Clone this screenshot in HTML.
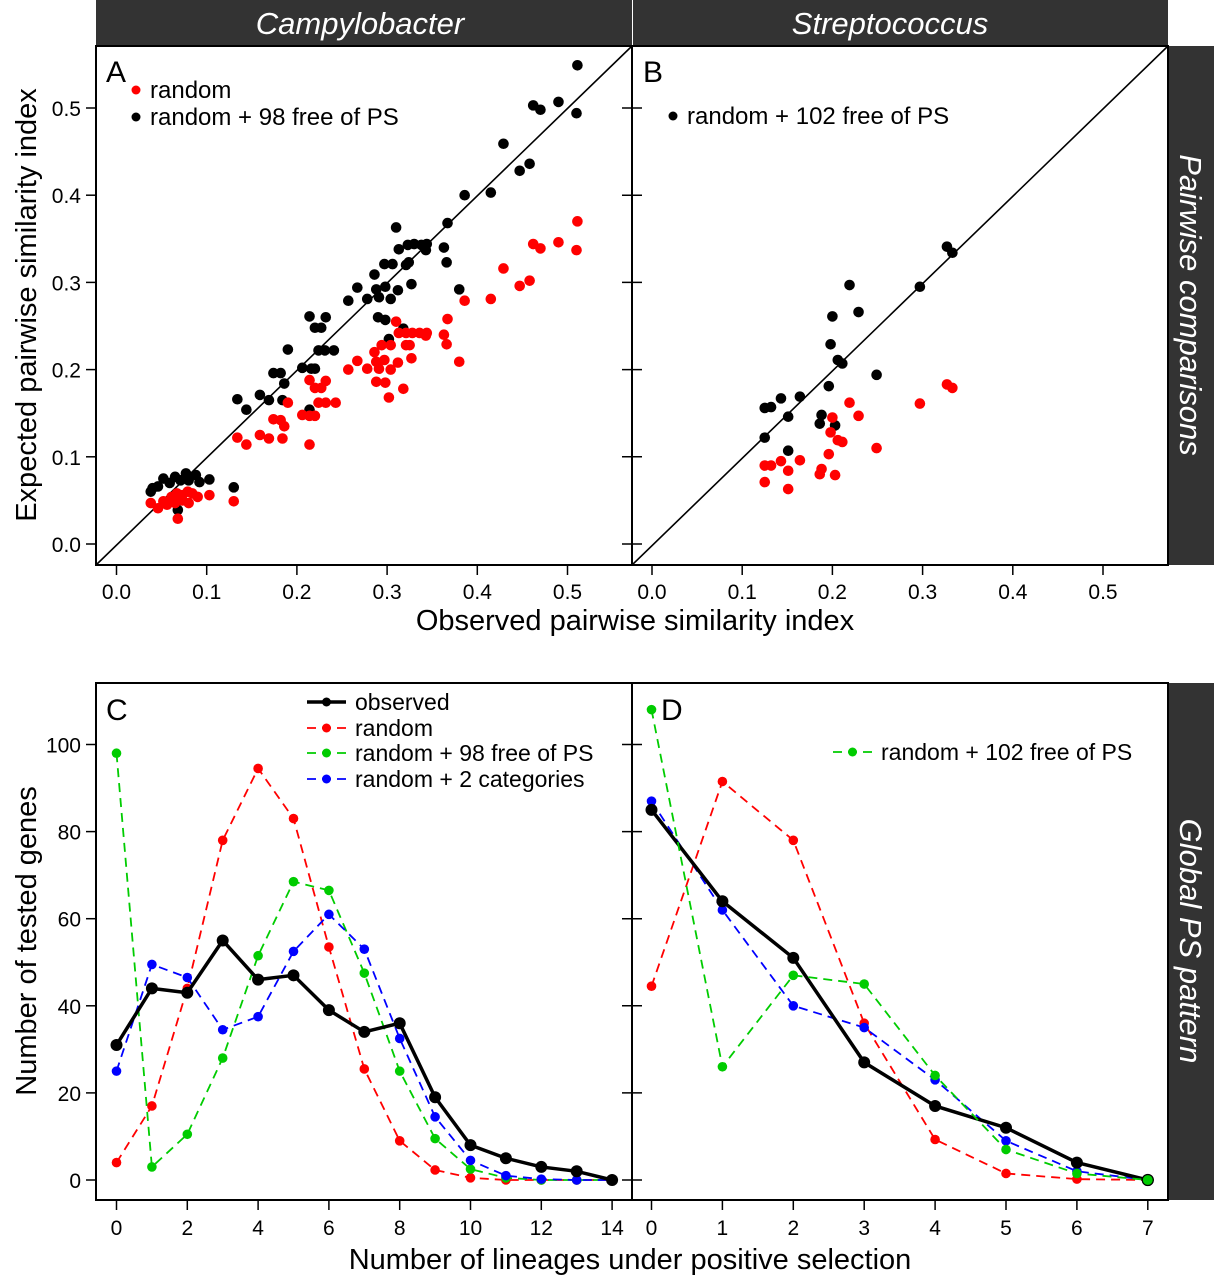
<!DOCTYPE html>
<html><head><meta charset="utf-8"><style>
html,body{margin:0;padding:0;background:#fff}
svg{display:block;font-family:"Liberation Sans",Arial,sans-serif}
</style></head><body>
<svg id="fig" width="1214" height="1280" viewBox="0 0 1214 1280" xmlns="http://www.w3.org/2000/svg">
<g>
<rect x="96" y="0" width="536" height="46" fill="#333"/>
<rect x="633" y="0" width="535" height="46" fill="#333"/>
<text x="360" y="34" fill="#fff" font-size="31" font-style="italic" text-anchor="middle">Campylobacter</text>
<text x="890" y="34" fill="#fff" font-size="31" font-style="italic" text-anchor="middle">Streptococcus</text>
<rect x="1168" y="46" width="46" height="519" fill="#333"/>
<rect x="1168" y="683" width="46" height="517" fill="#333"/>
<text transform="translate(1180,305) rotate(90)" fill="#fff" font-size="31" font-style="italic" text-anchor="middle">Pairwise comparisons</text>
<text transform="translate(1180,941) rotate(90)" fill="#fff" font-size="31" font-style="italic" text-anchor="middle">Global PS pattern</text>
</g>
<g id="topg"></g>
<g id="botg"></g>
<text transform="translate(36,305) rotate(-90)" font-size="29" text-anchor="middle">Expected pairwise similarity index</text>
<text x="635" y="630" font-size="29" text-anchor="middle">Observed pairwise similarity index</text>
<text transform="translate(36,941) rotate(-90)" font-size="29" text-anchor="middle">Number of tested genes</text>
<text x="630" y="1269" font-size="29" text-anchor="middle">Number of lineages under positive selection</text>
</svg>
<script>
// Panel A data
const aBlackX=[0.511,0.462,0.470,0.490,0.510,0.429,0.447,0.458,0.386,0.415,0.367,0.310,0.313,0.323,0.330,0.338,0.344,0.343,0.363,0.366,0.286,0.297,0.306,0.321,0.324,0.267,0.288,0.298,0.291,0.304,0.312,0.327,0.278,0.257,0.380,0.290,0.298,0.318,0.302,0.214,0.232,0.220,0.227,0.190,0.224,0.231,0.241,0.174,0.182,0.206,0.216,0.220,0.186,0.159,0.169,0.184,0.134,0.144,0.214,0.130,0.040,0.052,0.065,0.077,0.088,0.080,0.092,0.103,0.046,0.059,0.071,0.038,0.068];
const aBlackY=[0.549,0.503,0.498,0.507,0.494,0.459,0.428,0.436,0.400,0.403,0.368,0.363,0.338,0.343,0.344,0.343,0.344,0.337,0.340,0.323,0.309,0.321,0.321,0.320,0.323,0.294,0.292,0.295,0.283,0.281,0.291,0.298,0.281,0.279,0.292,0.260,0.257,0.247,0.235,0.261,0.260,0.248,0.248,0.223,0.222,0.222,0.222,0.196,0.196,0.202,0.201,0.201,0.184,0.171,0.165,0.165,0.166,0.154,0.154,0.065,0.064,0.075,0.077,0.081,0.079,0.073,0.071,0.074,0.066,0.070,0.073,0.060,0.039];
const aRedX=[0.511,0.462,0.470,0.490,0.510,0.429,0.447,0.458,0.386,0.415,0.367,0.363,0.366,0.380,0.310,0.313,0.321,0.328,0.336,0.344,0.343,0.294,0.304,0.321,0.325,0.286,0.297,0.288,0.312,0.327,0.267,0.278,0.257,0.291,0.304,0.288,0.298,0.318,0.302,0.214,0.232,0.220,0.227,0.190,0.224,0.232,0.243,0.174,0.182,0.186,0.206,0.214,0.220,0.159,0.169,0.184,0.134,0.144,0.214,0.130,0.103,0.038,0.046,0.052,0.061,0.067,0.073,0.079,0.084,0.090,0.065,0.080,0.073,0.056,0.068];
const aRedY=[0.370,0.344,0.339,0.346,0.337,0.316,0.296,0.302,0.279,0.281,0.258,0.240,0.229,0.209,0.255,0.242,0.242,0.242,0.242,0.242,0.239,0.228,0.228,0.228,0.228,0.220,0.211,0.209,0.208,0.213,0.210,0.201,0.200,0.201,0.200,0.186,0.185,0.178,0.168,0.188,0.187,0.179,0.179,0.162,0.162,0.162,0.162,0.143,0.142,0.135,0.148,0.147,0.147,0.125,0.121,0.121,0.122,0.114,0.114,0.049,0.056,0.047,0.041,0.049,0.054,0.058,0.056,0.060,0.058,0.054,0.047,0.047,0.050,0.045,0.029];
// Panel B data
const bBlackX=[0.219,0.297,0.200,0.229,0.198,0.206,0.211,0.249,0.196,0.125,0.132,0.143,0.164,0.151,0.188,0.186,0.203,0.125,0.151,0.327,0.333];
const bBlackY=[0.297,0.295,0.261,0.266,0.229,0.211,0.207,0.194,0.181,0.156,0.157,0.167,0.169,0.146,0.148,0.138,0.136,0.122,0.107,0.341,0.334];
const bRedX=[0.327,0.333,0.297,0.219,0.229,0.200,0.198,0.206,0.211,0.249,0.196,0.125,0.132,0.143,0.164,0.151,0.188,0.186,0.203,0.125,0.151];
const bRedY=[0.183,0.179,0.161,0.162,0.147,0.145,0.128,0.119,0.117,0.110,0.103,0.090,0.090,0.095,0.096,0.084,0.086,0.080,0.079,0.071,0.063];
const topTicks=[0,0.1,0.2,0.3,0.4,0.5];
const topTickLabels=["0.0","0.1","0.2","0.3","0.4","0.5"];
// Panel C data
const cLineages=[0,1,2,3,4,5,6,7,8,9,10,11,12,13,14];
const cObserved=[31,44,43,55,46,47,39,34,36,19,8,5,3,2,0];
const cRandom=[4,17,44,78,94.5,83,53.5,25.5,9,2.3,0.5,0,0,0,0];
const cFree=[98,3,10.5,28,51.5,68.5,66.5,47.5,25,9.5,2.5,0.5,0,0,0];
const cTwoCat=[25,49.5,46.5,34.5,37.5,52.5,61,53,32.5,14.5,4.5,1,0.2,0,0];
// Panel D data
const dLineages=[0,1,2,3,4,5,6,7];
const dObserved=[85,64,51,27,17,12,4,0];
const dRandom=[44.5,91.5,78,36,9.3,1.5,0.2,0];
const dFree=[108,26,47,45,24,7,1.5,0];
const dTwoCat=[87,62,40,35,23,9,2,0];
const botYTicks=[0,20,40,60,80,100];
const cXTicks=[0,2,4,6,8,10,12,14];
const dXTicks=[0,1,2,3,4,5,6,7];

const NS="http://www.w3.org/2000/svg";
function mk(parent,tag,attrs){const e=document.createElementNS(NS,tag);for(const k in attrs)e.setAttribute(k,attrs[k]);parent.appendChild(e);return e;}
const gTop=document.getElementById('topg'), gBot=document.getElementById('botg');

const xA=v=>116.5+v*902, xB=v=>652+v*902, yT=v=>544-v*872;
let f=mk(gTop,'rect',{x:96,y:46,width:536,height:519,fill:'none',stroke:'#000','stroke-width':2});


f=mk(gTop,'rect',{x:632,y:46,width:536,height:519,fill:'none',stroke:'#000','stroke-width':2});


let d=mk(gTop,'line',{x1:96,y1:565,x2:632,y2:46,stroke:'#000','stroke-width':1.6});


d=mk(gTop,'line',{x1:632,y1:565,x2:1168,y2:46,stroke:'#000','stroke-width':1.6});


function txt(g,x,y,s,size,name,anchor){const e=mk(g,'text',{x:x,y:y,'font-size':size,'text-anchor':anchor||'start'});e.textContent=s;
  
  return e;}
topTicks.forEach((t,i)=>{
  let e=mk(gTop,'line',{x1:xA(t),y1:565,x2:xA(t),y2:575,stroke:'#000','stroke-width':1.5});
  
  
  e=mk(gTop,'line',{x1:xB(t),y1:565,x2:xB(t),y2:575,stroke:'#000','stroke-width':1.5});
  
  
  txt(gTop,xA(t),599,topTickLabels[i],21,'x-tick-label-a','middle');
  txt(gTop,xB(t),599,topTickLabels[i],21,'x-tick-label-b','middle');
  e=mk(gTop,'line',{x1:86,y1:yT(t),x2:96,y2:yT(t),stroke:'#000','stroke-width':1.5});
  
  
  e=mk(gTop,'line',{x1:622,y1:yT(t),x2:642,y2:yT(t),stroke:'#000','stroke-width':1.5});
  
  
  txt(gTop,81,yT(t)+8,topTickLabels[i],21,'y-tick-label-a','end');
});
function pts(g,xs,ys,xf,col,name){xs.forEach((v,i)=>{const c=mk(g,'circle',{cx:xf(v),cy:yT(ys[i]),r:5.3,fill:col});
  
  });}
pts(gTop,aBlackX,aBlackY,xA,'#000','point-a-free');
pts(gTop,aRedX,aRedY,xA,'#f00','point-a-random');
pts(gTop,bBlackX,bBlackY,xB,'#000','point-b-free');
pts(gTop,bRedX,bRedY,xB,'#f00','point-b-random');
txt(gTop,106,82,'A',30,'panel-label-a');
txt(gTop,643,82,'B',30,'panel-label-b');
let l=mk(gTop,'circle',{cx:136,cy:90,r:4.5,fill:'#f00'});


txt(gTop,150,98,'random',24,'legend-label-random');
l=mk(gTop,'circle',{cx:136,cy:117,r:4.5,fill:'#000'});


txt(gTop,150,125,'random + 98 free of PS',24,'legend-label-free');
l=mk(gTop,'circle',{cx:673,cy:116,r:4.5,fill:'#000'});


txt(gTop,687,124,'random + 102 free of PS',24,'legend-label-free-b');

const xC=v=>116.5+v*35.4, xD=v=>651.5+v*70.9, yB=v=>1180-v*4.355;
f=mk(gBot,'rect',{x:96,y:683,width:536,height:517,fill:'none',stroke:'#000','stroke-width':2});


f=mk(gBot,'rect',{x:632,y:683,width:536,height:517,fill:'none',stroke:'#000','stroke-width':2});


botYTicks.forEach(t=>{
  let e=mk(gBot,'line',{x1:86,y1:yB(t),x2:96,y2:yB(t),stroke:'#000','stroke-width':1.5});
  
  
  e=mk(gBot,'line',{x1:622,y1:yB(t),x2:642,y2:yB(t),stroke:'#000','stroke-width':1.5});
  
  
  txt(gBot,81,yB(t)+8,String(t),21,'y-tick-label-c','end');
});
cXTicks.forEach(t=>{
  let e=mk(gBot,'line',{x1:xC(t),y1:1200,x2:xC(t),y2:1210,stroke:'#000','stroke-width':1.5});
  
  
  txt(gBot,xC(t),1235,String(t),21,'x-tick-label-c','middle');
});
dXTicks.forEach(t=>{
  let e=mk(gBot,'line',{x1:xD(t),y1:1200,x2:xD(t),y2:1210,stroke:'#000','stroke-width':1.5});
  
  
  txt(gBot,xD(t),1235,String(t),21,'x-tick-label-d','middle');
});
function series(xs,ys,xf,col,dash,w,r,name){
  const p=mk(gBot,'polyline',{points:xs.map((v,i)=>xf(v)+','+yB(ys[i])).join(' '),fill:'none',stroke:col,'stroke-width':w,'stroke-dasharray':dash});
  
  
  xs.forEach((v,i)=>{const c=mk(gBot,'circle',{cx:xf(v),cy:yB(ys[i]),r:r,fill:col});
    
    });
}
series(cLineages,cRandom,xC,'#f00','9,6',1.8,4.8,'c-random');
series(cLineages,cFree,xC,'#00cc00','9,6',1.8,4.8,'c-free');
series(cLineages,cTwoCat,xC,'#00f','9,6',1.8,4.8,'c-two-categories');
series(cLineages,cObserved,xC,'#000','none',3.5,6,'c-observed');
series(dLineages,dRandom,xD,'#f00','9,6',1.8,4.8,'d-random');
series(dLineages,dTwoCat,xD,'#00f','9,6',1.8,4.8,'d-two-categories');
series(dLineages,dObserved,xD,'#000','none',3.5,6,'d-observed');
series(dLineages,dFree,xD,'#00cc00','9,6',1.8,4.8,'d-free');
const lastD=dLineages.length-1;
let oc=mk(gBot,'circle',{cx:xD(dLineages[lastD]),cy:yB(dFree[lastD]),r:5.5,fill:'#00cc00',stroke:'#000','stroke-width':1.2});


txt(gBot,106,720,'C',30,'panel-label-c');
txt(gBot,661,720,'D',30,'panel-label-d');
function leg(x1,x2,y,col,dash,w,r,label,name){
  let e=mk(gBot,'line',{x1:x1,y1:y,x2:x2,y2:y,stroke:col,'stroke-width':w,'stroke-dasharray':dash});
  
  
  e=mk(gBot,'circle',{cx:(x1+x2)/2,cy:y,r:r,fill:col});
  
  
  txt(gBot,x2+9,y+8,label,23,name+'-label');
}
leg(307,346,702,'#000','none',3.5,4.5,'observed','legend-observed');
leg(307,346,728,'#f00','9,6',1.8,4.5,'random','legend-random');
leg(307,346,753,'#00cc00','9,6',1.8,4.5,'random + 98 free of PS','legend-free');
leg(307,346,779,'#00f','9,6',1.8,4.5,'random + 2 categories','legend-two-categories');
leg(833,872,752,'#00cc00','9,6',1.8,4.5,'random + 102 free of PS','legend-free-d');
</script>
</body></html>
